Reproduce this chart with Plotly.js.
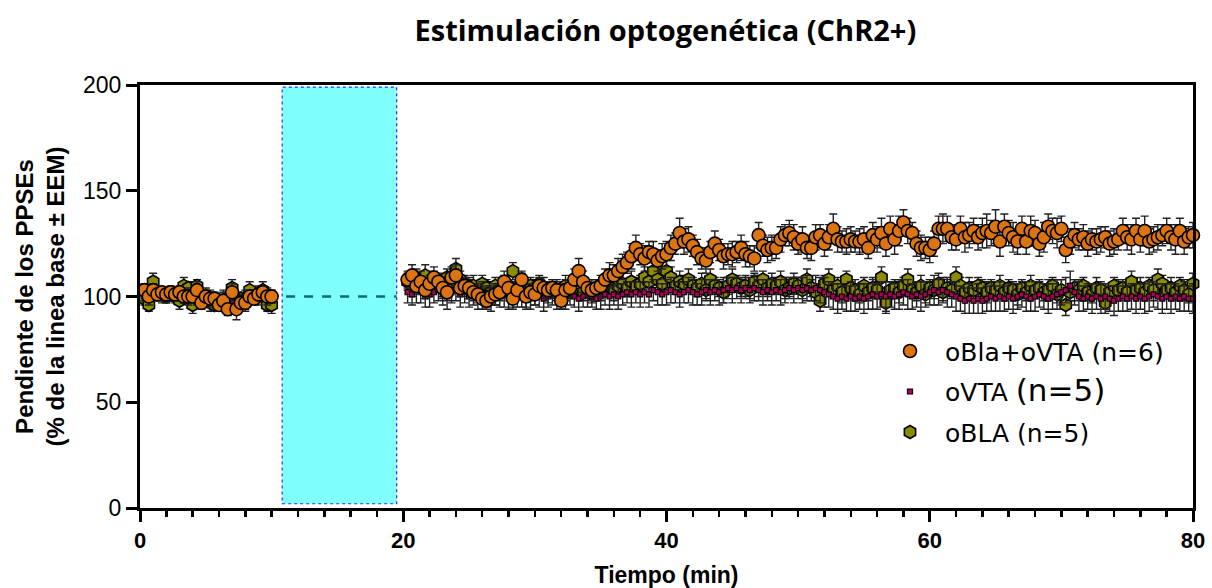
<!DOCTYPE html>
<html>
<head>
<meta charset="utf-8">
<script src="https://cdn.plot.ly/plotly-3.0.1.min.js"></script>
<style>html,body{margin:0;padding:0;background:#fff;}#chart{width:1212px;height:588px;}</style>
</head>
<body>
<div id="chart"></div>
<script>
// ---- Data ----
const seriesNames = ['oBla+oVTA (n=6)', 'oVTA <span style="font-size:31px">(n=5)</span>', 'oBLA (n=5)'];

const xBase = [0.33,0.67,1,1.33,1.67,2,2.33,2.67,3,3.33,3.67,4,4.33,4.67,5,5.33,5.67,6,6.33,6.67,7,7.33,7.67,8,8.33,8.67,9,9.33,9.67,10];
const xPost = [
20.33,20.67,21,21.33,21.67,22,22.33,22.67,23,23.33,23.67,24,24.33,24.67,25,25.33,25.67,26,26.33,26.67,27,27.33,27.67,28,28.33,28.67,29,29.33,29.67,30,
30.33,30.67,31,31.33,31.67,32,32.33,32.67,33,33.33,33.67,34,34.33,34.67,35,35.33,35.67,36,36.33,36.67,37,37.33,37.67,38,38.33,38.67,39,39.33,39.67,40,
40.33,40.67,41,41.33,41.67,42,42.33,42.67,43,43.33,43.67,44,44.33,44.67,45,45.33,45.67,46,46.33,46.67,47,47.33,47.67,48,48.33,48.67,49,49.33,49.67,50,
50.33,50.67,51,51.33,51.67,52,52.33,52.67,53,53.33,53.67,54,54.33,54.67,55,55.33,55.67,56,56.33,56.67,57,57.33,57.67,58,58.33,58.67,59,59.33,59.67,60,
60.33,60.67,61,61.33,61.67,62,62.33,62.67,63,63.33,63.67,64,64.33,64.67,65,65.33,65.67,66,66.33,66.67,67,67.33,67.67,68,68.33,68.67,69,69.33,69.67,70,
70.33,70.67,71,71.33,71.67,72,72.33,72.67,73,73.33,73.67,74,74.33,74.67,75,75.33,75.67,76,76.33,76.67,77,77.33,77.67,78,78.33,78.67,79,79.33,79.67,80];

// oBla+oVTA (n=6)
const blaVtaBase = [103,100,103,101,102,101,102,101,102,100,100,100,103,97,100,99,99,96,98,94,102,94,97,97,100,99,101,102,100,100];
const blaVtaPost = [
108,110,105,107,103,106,109,107,104,102,109,110,104,105,104,102,101,99,98,100,101,102,107,104,99,103,108,100,102,101,
105,104,103,104,103,98,103,104,108,112,107,104,103,104,105,108,110,110,112,114,116,119,123,120,118,121,120,117,119,120,
123,125,130,126,127,124,121,118,117,121,125,122,119,120,120,121,123,120,119,118,129,124,122,123,123,127,129,130,128,125,
127,123,123,128,129,125,128,132,127,126,126,127,126,126,127,123,129,127,130,125,132,127,131,135,131,130,125,123,123,122,
125,132,132,132,128,127,132,128,129,131,128,130,131,130,133,126,133,130,128,126,132,126,131,130,125,128,133,131,130,132,
122,126,129,127,128,125,127,126,127,128,125,126,127,131,128,127,131,127,131,126,127,128,129,131,128,127,131,126,128,129];
const blaVtaErrBase = [3,4,3,3,2,3,3,2,3,3,4,3,4,3,4,4,3,3,4,3,4,5,3,4,3,3,4,3,4,3];
const blaVtaErrPost = [
4,5,4,5,4,4,5,4,5,4,5,5,4,4,5,4,4,5,4,4,5,4,5,4,5,4,4,5,4,5,
4,5,4,4,5,4,5,4,5,6,5,4,5,4,5,5,6,5,6,6,5,6,6,5,6,5,6,5,6,6,
6,5,7,6,6,5,6,5,6,5,6,5,6,5,6,5,6,6,5,6,6,5,6,6,5,6,5,6,6,5,
6,5,6,6,5,6,6,7,6,5,6,6,5,6,6,5,6,6,7,6,6,7,7,6,6,5,6,6,5,6,
6,6,7,6,6,5,6,7,6,6,6,7,8,6,8,7,6,6,7,6,6,6,7,6,6,7,6,6,7,6,
6,6,6,5,6,6,5,6,6,5,6,6,5,6,6,7,6,6,7,6,6,6,5,6,6,7,6,6,5,6];

// oVTA (n=5)
const vtaBase = [100,101,100,101,100,99,100,101,100,99,100,101,99,98,100,99,98,99,100,99,98,100,99,100,101,100,99,100,101,100];
const vtaPost = [
102,101,103,102,100,101,102,103,101,100,102,103,101,102,100,101,100,102,100,99,101,100,101,99,100,101,100,99,100,101,
100,99,100,101,100,99,100,101,100,99,100,101,100,99,100,101,100,101,100,101,102,101,102,101,102,101,103,102,101,102,
103,102,101,102,103,102,101,102,103,102,103,102,103,104,103,104,103,104,103,104,103,102,103,102,103,102,103,104,103,104,
103,104,103,104,103,102,101,100,99,100,99,100,99,100,99,100,101,100,101,100,101,100,101,102,101,100,101,100,101,102,
103,102,103,102,101,100,99,98,99,98,99,98,99,100,99,100,99,100,99,100,101,100,99,100,101,100,99,100,101,102,
103,105,102,100,99,100,99,100,99,100,99,98,99,100,99,100,99,100,99,100,101,100,99,100,99,100,99,100,99,99];
const vtaErrBase = [2,3,2,2,3,2,2,3,2,2,3,2,3,2,2,3,2,2,3,2,3,2,2,3,2,2,3,2,2,3];
const vtaErrPost = [
5,5,6,5,5,6,5,5,5,6,5,5,6,5,5,5,6,5,5,6,5,5,6,5,5,6,5,5,6,5,
5,6,5,5,6,5,6,5,5,6,5,6,5,5,6,5,6,5,6,5,5,6,5,6,5,6,5,6,5,6,
6,5,6,5,6,6,5,6,5,6,5,6,6,5,6,5,6,5,6,6,5,6,5,6,5,6,6,5,6,5,
6,6,5,6,6,7,6,6,7,6,6,7,6,6,7,6,7,6,6,7,6,6,7,6,7,6,6,7,6,6,
7,6,6,7,6,7,6,6,7,6,7,6,6,7,6,7,6,6,7,6,6,7,6,7,6,6,7,6,7,6,
6,7,6,7,6,6,7,6,7,6,6,7,6,7,6,6,7,6,7,7,6,6,7,6,7,6,6,7,6,7];

// oBLA (n=5)
const blaBase = [99,96,107,102,101,100,101,100,98,105,104,96,105,99,100,97,96,98,97,99,104,98,99,97,103,100,101,103,96,96];
const blaPost = [
107,105,109,106,110,104,108,106,105,109,107,113,108,106,104,105,103,106,104,102,105,103,106,105,112,104,106,103,105,104,
106,103,102,104,103,101,105,103,104,106,102,104,101,103,102,104,105,103,105,106,104,107,105,106,109,107,112,108,106,112,
109,105,107,106,108,105,104,106,103,108,105,104,102,105,108,106,104,105,103,107,105,108,104,106,105,107,103,104,106,105,
103,108,104,102,98,106,108,103,105,102,108,104,103,101,105,102,104,103,109,97,103,104,102,105,108,103,102,105,101,104,
103,106,102,104,103,109,105,102,104,103,105,104,102,104,103,105,102,104,103,101,104,102,105,103,104,102,103,105,101,103,
96,102,104,103,105,102,101,104,103,97,102,105,103,104,102,107,103,104,102,105,103,108,106,103,104,102,105,103,101,106];
const blaErrBase = [3,3,4,3,3,3,3,3,4,4,3,4,3,3,3,4,3,3,3,3,4,3,3,3,4,3,3,4,3,4];
const blaErrPost = [
4,5,4,4,5,4,4,4,5,4,4,5,4,4,4,5,4,4,4,5,4,4,4,5,4,4,5,4,4,4,
4,4,5,4,4,4,5,4,4,5,4,4,4,5,4,4,4,5,4,5,4,5,4,4,5,5,4,5,4,5,
5,4,5,4,5,4,4,5,4,5,4,4,5,4,5,4,4,5,4,4,5,4,4,5,4,5,4,4,5,4,
4,5,4,4,5,4,5,4,4,5,4,4,5,4,4,4,5,4,5,5,4,4,5,4,5,4,4,5,4,4,
4,5,4,4,4,5,4,4,5,4,4,4,5,4,4,5,4,4,4,5,4,4,5,4,4,4,5,4,4,5,
5,4,4,5,4,4,4,5,4,5,4,4,5,4,4,5,4,5,4,4,5,5,4,4,5,4,4,5,4,5];

// stimulation window and baseline reference
const stimWindow = [10.8, 19.5];
const baselineRef = 100;

// ---- Build ----
const xAll = xBase.concat(xPost);
const errStyle = (arr) => ({type:'data', array: arr, visible:true, color:'#222', thickness:1.4, width:4});

const trBLA = {
  x: xAll, y: blaBase.concat(blaPost), name: seriesNames[2], legendgroup:'g1', legendrank:3,
  type:'scatter', mode:'markers', cliponaxis:false,
  marker:{symbol:'hexagon', size:13, color:'#8c8c00', line:{color:'#000', width:1.6}},
  error_y: errStyle(blaErrBase.concat(blaErrPost))
};
const trVTA = {
  x: xAll, y: vtaBase.concat(vtaPost), name: seriesNames[1], legendgroup:'g2', legendrank:2,
  type:'scatter', mode:'markers', cliponaxis:false,
  marker:{symbol:'square', size:5, color:'#b0005a', line:{color:'#000', width:1.2}},
  error_y: errStyle(vtaErrBase.concat(vtaErrPost))
};
const trBlaVta = {
  x: xAll, y: blaVtaBase.concat(blaVtaPost), name: seriesNames[0], legendgroup:'g3', legendrank:1,
  type:'scatter', mode:'markers', cliponaxis:false,
  marker:{symbol:'circle', size:13, color:'#dc7412', line:{color:'#000', width:1.6}},
  error_y: errStyle(blaVtaErrBase.concat(blaVtaErrPost))
};

const layout = {
  width:1212, height:588,
  margin:{l:140, r:19, t:85, b:80},
  paper_bgcolor:'#fff', plot_bgcolor:'#fff',
  showlegend:true,
  title:{text:'<b>Estimulación optogenética (ChR2+)</b>', x:0.549, xanchor:'center', y:0.947, yanchor:'middle',
         font:{family:'Open Sans, sans-serif', size:29, color:'#000'}},
  xaxis:{range:[0,80], tickvals:[0,20,40,60,80], ticks:'outside', ticklen:11, tickwidth:3, tickcolor:'#000',
         minor:{dtick:2, ticks:'outside', ticklen:6, tickwidth:2.5, tickcolor:'#000'},
         showline:true, linewidth:3, linecolor:'#000', mirror:true, showgrid:false, zeroline:false,
         tickfont:{family:'Liberation Sans Narrow, Arial Narrow, sans-serif', size:22, color:'#000', weight:'bold'},
         title:{text:'<b>Tiempo (min)</b>', standoff:18, font:{family:'Liberation Sans Narrow, Arial Narrow, sans-serif', size:23, color:'#000'}}},
  yaxis:{range:[0,200], tickvals:[0,50,100,150,200], ticks:'outside', ticklen:11, tickwidth:3, tickcolor:'#000',
         showline:true, linewidth:3, linecolor:'#000', mirror:true, showgrid:false, zeroline:false,
         tickfont:{family:'Liberation Sans, Arial, sans-serif', size:23, color:'#000'},
         title:{text:'<b>Pendiente de los PPSEs<br>(% de la linea base ± EEM)</b>', standoff:12,
                font:{family:'Liberation Sans, Arial, sans-serif', size:24, color:'#000'}}},
  legend:{x:0.698, xanchor:'left', y:0.425, yanchor:'top', traceorder:'grouped', tracegroupgap:5,
          font:{family:'DejaVu Sans, sans-serif', size:25, color:'#000'}, bgcolor:'rgba(0,0,0,0)', itemwidth:60},
  shapes:[
    {type:'rect', xref:'x', yref:'y', x0:stimWindow[0], x1:stimWindow[1], y0:2, y1:199, layer:'below',
     fillcolor:'#80ffff', line:{color:'#2a2aff', width:1.2, dash:'dot'}},
    {type:'line', xref:'x', yref:'y', x0:stimWindow[0]+0.3, x1:stimWindow[1], y0:baselineRef, y1:baselineRef,
     line:{color:'#0d6b6b', width:2.5, dash:'dash'}}
  ]
};

Plotly.newPlot('chart', [trBLA, trVTA, trBlaVta], layout, {displayModeBar:false, staticPlot:true});
</script>
</body>
</html>
